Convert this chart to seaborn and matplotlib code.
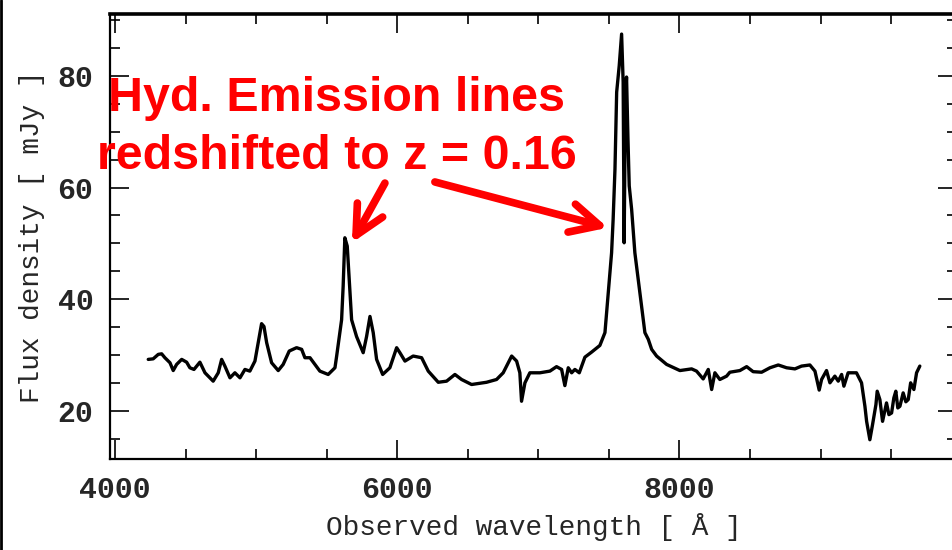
import matplotlib
matplotlib.use("Agg")
import matplotlib.pyplot as plt
from matplotlib.lines import Line2D
from matplotlib.ticker import MultipleLocator, FixedLocator
import seaborn as sns
import pandas as pd

# Observed spectrum: wavelength [Angstrom] and flux density [mJy]
wavelength = [
    4236, 4271, 4307, 4331, 4354, 4390, 4413, 4437, 4473, 4508,
    4531, 4560, 4602, 4638, 4696, 4732, 4756, 4779, 4815, 4850,
    4886, 4921, 4956, 4992, 5015, 5039, 5056, 5075, 5110, 5157,
    5192, 5235, 5287, 5323, 5346, 5382, 5452, 5511, 5559, 5571,
    5606, 5617, 5629, 5646, 5660, 5677, 5712, 5759, 5783, 5807,
    5830, 5854, 5897, 5948, 5996, 6019, 6055, 6113, 6173, 6220,
    6291, 6350, 6409, 6456, 6527, 6633, 6704, 6751, 6811, 6846,
    6869, 6881, 6905, 6940, 7011, 7082, 7129, 7165, 7188, 7212,
    7236, 7259, 7290, 7330, 7377, 7436, 7472, 7495, 7519, 7530,
    7543, 7555, 7573, 7590, 7601, 7608, 7617, 7625, 7635, 7644,
    7661, 7684, 7720, 7755, 7779, 7803, 7838, 7909, 8003, 8086,
    8121, 8168, 8204, 8228, 8251, 8286, 8334, 8357, 8428, 8476,
    8522, 8582, 8641, 8700, 8759, 8818, 8865, 8924, 8960, 8990,
    9007, 9042, 9066, 9101, 9125, 9149, 9165, 9195, 9254, 9290,
    9314, 9326, 9349, 9368, 9392, 9401, 9420, 9439, 9467, 9484,
    9503, 9519, 9533, 9547, 9562, 9585, 9604, 9621, 9638, 9661,
    9680, 9703,
]
flux = [
    29.2, 29.3, 30.1, 30.2, 29.5, 28.6, 27.2, 28.3, 29.2, 28.7,
    27.7, 27.4, 28.7, 26.8, 25.3, 26.8, 29.2, 28.0, 25.9, 26.8,
    25.9, 27.4, 27.1, 28.9, 32.2, 35.6, 35.1, 32.2, 28.6, 27.2,
    28.3, 30.7, 31.3, 31.0, 29.5, 29.5, 27.1, 26.5, 27.7, 29.8,
    36.3, 42.3, 51.0, 49.5, 43.5, 36.3, 33.3, 30.4, 33.3, 36.9,
    34.0, 29.2, 26.5, 27.7, 31.3, 30.4, 28.9, 29.8, 29.5, 27.1,
    25.1, 25.3, 26.5, 25.6, 24.7, 25.1, 25.6, 26.8, 29.8, 28.9,
    26.8, 21.7, 25.0, 26.8, 26.8, 27.1, 27.9, 27.4, 24.5, 27.7,
    26.8, 27.4, 26.8, 29.6, 30.5, 31.7, 34.0, 41.1, 48.3, 54.3,
    63.3, 77.1, 81.8, 87.5, 78.9, 50.1, 75.9, 79.8, 68.7, 60.3,
    56.1, 48.3, 41.1, 34.0, 32.8, 31.0, 29.8, 28.3, 27.2, 27.5,
    27.1, 25.7, 27.4, 23.8, 26.8, 25.6, 26.2, 26.9, 27.2, 27.9,
    27.0, 26.9, 27.7, 28.2, 27.7, 27.5, 28.0, 28.2, 27.1, 23.7,
    25.6, 27.2, 25.0, 26.2, 25.3, 26.5, 24.4, 26.8, 26.8, 25.0,
    20.8, 18.1, 14.8, 17.5, 21.1, 23.5, 22.0, 18.1, 21.4, 19.3,
    19.6, 22.3, 23.5, 20.5, 20.8, 23.2, 21.6, 22.0, 25.0, 23.8,
    26.8, 28.0,
]

x_ticks = [4000, 6000, 8000]
y_ticks = [20, 40, 60, 80]
x_label = "Observed wavelength [ Å ]"
y_label = "Flux density [ mJy ]"
note_lines = ["Hyd. Emission lines", "redshifted to z = 0.16"]

spectrum = pd.DataFrame({"wavelength": wavelength, "flux": flux})

sns.set_style("white")
plt.rcParams["font.family"] = ["Liberation Mono", "DejaVu Sans Mono"]

fig = plt.figure(figsize=(9.53, 5.50), dpi=100)
ax = fig.add_axes([110 / 953, 1 - 459 / 550, 847.5 / 953, 445 / 550])

sns.lineplot(data=spectrum, x="wavelength", y="flux", ax=ax, color="black",
             linewidth=2.4, sort=False, estimator=None)

ax.set_xlim(3965, 9970)
ax.set_ylim(11.35, 91.1)

ax.xaxis.set_major_locator(FixedLocator(x_ticks))
ax.yaxis.set_major_locator(FixedLocator(y_ticks))
ax.xaxis.set_minor_locator(MultipleLocator(500))
ax.yaxis.set_minor_locator(MultipleLocator(5))
ax.tick_params(which="both", direction="in", top=True, right=True,
               bottom=True, left=True, color="black", width=1.2)
ax.tick_params(which="major", length=14, pad=12, labelsize=21.5)
ax.tick_params(which="minor", length=7.5)
for lbl in ax.get_xticklabels() + ax.get_yticklabels():
    lbl.set_fontweight("bold")

for side, spine in ax.spines.items():
    spine.set_visible(True)
    spine.set_color("black")
    spine.set_linewidth(1.6)
ax.spines["top"].set_linewidth(2.6)

ax.set_xlabel(x_label, fontsize=20, labelpad=7)
ax.set_ylabel(y_label, fontsize=20, labelpad=9)

# Red annotation text and arrows pointing to the two emission lines
red = "#ff0000"
ax.text(5573, 73.8, note_lines[0], color=red, fontsize=34.8, fontweight="bold",
        family="Liberation Sans", ha="center", va="baseline")
ax.text(5573, 63.4, note_lines[1], color=red, fontsize=34.8, fontweight="bold",
        family="Liberation Sans", ha="center", va="baseline")

arrow_props = dict(arrowstyle="->", color=red, lw=5.5, mutation_scale=52,
                   shrinkA=0, shrinkB=0, capstyle="round", joinstyle="round")
ax.annotate("", xy=(5679, 50.1), xytext=(5913, 60.8), arrowprops=arrow_props)
ax.annotate("", xy=(7493, 52.8), xytext=(6267, 61.0), arrowprops=arrow_props)

# thin border on the left edge of the figure
fig.add_artist(Line2D([0.001, 0.001], [0, 1], transform=fig.transFigure,
                      color="black", lw=2))

fig.savefig("out.png", dpi=100, facecolor="white")
